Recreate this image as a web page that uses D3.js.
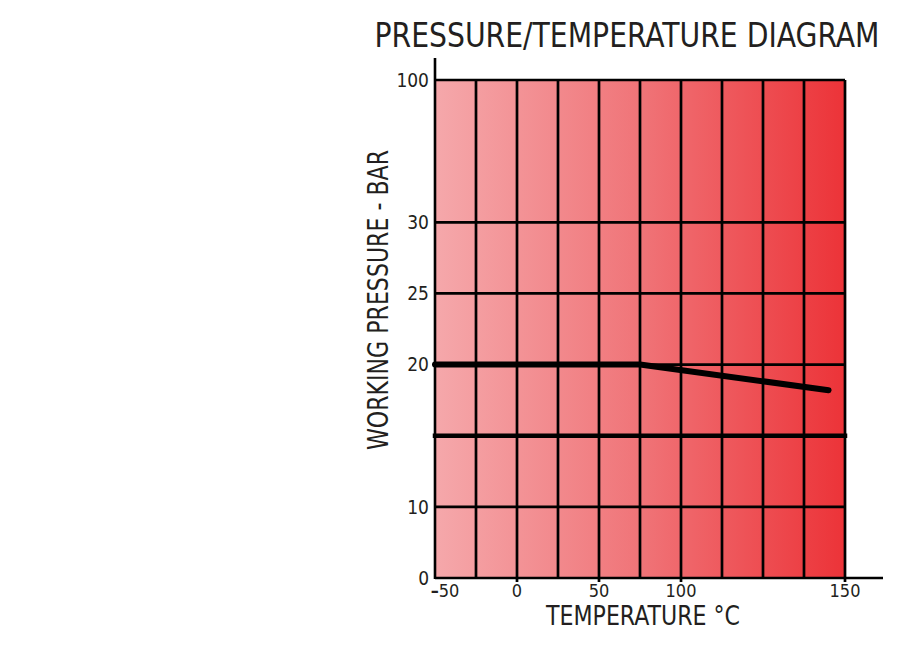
<!DOCTYPE html>
<html>
<head>
<meta charset="utf-8">
<script src="https://cdn.jsdelivr.net/npm/d3@7"></script>
<style>
  html, body { margin: 0; padding: 0; background: #fff; }
  svg { display: block; }
  text { font-family: "DejaVu Sans Condensed", "DejaVu Sans", sans-serif; fill: #231f20; }
</style>
</head>
<body>
<svg id="chart" width="909" height="645"></svg>
<script>
// Pressure levels shown on the vertical axis (unevenly spaced steps)
const pressureLevels = [0, 10, 15, 20, 25, 30, 100];
const pressureLabels = ["0", "10", "", "20", "25", "30", "100"];

// Temperature ticks on the horizontal axis
const tempTicks = [-50, 0, 50, 100, 150];
const tempLabels = ["-50", "0", "50", "100", "150"];

// Maximum working pressure curve
const ratingTemp = [-50, 75, 145];
const ratingPressure = [20, 20, 18.2];

// Reference pressure line
const refTemp = [-50, 150];
const refPressure = [15, 15];

const svg = d3.select("#chart");
const plot = { left: 435, right: 845, top: 80, bottom: 578 };
const columns = 10;
const colW = (plot.right - plot.left) / columns;

// Temperature scale: -50..100 spans six columns, 100..150 the last four
const x = d3.scaleLinear()
  .domain([-50, 100, 150])
  .range([plot.left, plot.left + 6 * colW, plot.right]);

// Pressure scale: one step per level, a double step up to 100 bar
const stepUnits = pressureLevels.map((d, i) => i === pressureLevels.length - 1 ? i + 1 : i);
const stepH = (plot.bottom - plot.top) / stepUnits[stepUnits.length - 1];
const y = d3.scaleLinear()
  .domain(pressureLevels)
  .range(stepUnits.map(s => plot.bottom - s * stepH));

// Background gradient
const defs = svg.append("defs");
const grad = defs.append("linearGradient")
  .attr("id", "bg").attr("x1", "0%").attr("x2", "100%").attr("y1", "0%").attr("y2", "0%");
grad.append("stop").attr("offset", "0%").attr("stop-color", "#f5a8ab");
grad.append("stop").attr("offset", "50%").attr("stop-color", "#f07478");
grad.append("stop").attr("offset", "100%").attr("stop-color", "#ec3338");

svg.append("rect")
  .attr("x", plot.left).attr("y", plot.top)
  .attr("width", plot.right - plot.left).attr("height", plot.bottom - plot.top)
  .attr("fill", "url(#bg)");

// Vertical grid (column boundaries)
const grid = svg.append("g").attr("stroke", "#000").attr("stroke-width", 2.7);
d3.range(1, columns + 1).forEach(i => {
  const gx = plot.left + i * colW;
  grid.append("line")
    .attr("x1", gx).attr("x2", gx)
    .attr("y1", plot.top).attr("y2", plot.bottom);
});

// Horizontal grid at each pressure level
pressureLevels.forEach(p => {
  if (p === 0) return;
  grid.append("line")
    .attr("x1", plot.left).attr("x2", plot.right)
    .attr("y1", y(p)).attr("y2", y(p));
});

// Small downward ticks at labelled temperatures
tempTicks.slice(1).forEach(t => {
  grid.append("line")
    .attr("x1", x(t)).attr("x2", x(t))
    .attr("y1", plot.bottom).attr("y2", plot.bottom + 4);
});

// Axes lines
svg.append("line")
  .attr("x1", plot.left).attr("x2", plot.left)
  .attr("y1", 58).attr("y2", plot.bottom + 1)
  .attr("stroke", "#000").attr("stroke-width", 2.6);
svg.append("line")
  .attr("x1", plot.left).attr("x2", 883)
  .attr("y1", plot.bottom).attr("y2", plot.bottom)
  .attr("stroke", "#000").attr("stroke-width", 2.6);

// Curves
const line = d3.line().x(d => x(d[0])).y(d => y(d[1]));
svg.append("path")
  .datum(refTemp.map((t, i) => [t, refPressure[i]]))
  .attr("d", line)
  .attr("fill", "none").attr("stroke", "#000")
  .attr("stroke-width", 4.5).attr("stroke-linecap", "square");
svg.append("path")
  .datum(ratingTemp.map((t, i) => [t, ratingPressure[i]]))
  .attr("d", line)
  .attr("fill", "none").attr("stroke", "#000")
  .attr("stroke-width", 6).attr("stroke-linecap", "round").attr("stroke-linejoin", "round");

// Y tick labels
svg.append("g").selectAll("text")
  .data(pressureLevels.map((p, i) => ({ p, label: pressureLabels[i] })).filter(d => d.label))
  .join("text")
  .attr("x", 429)
  .attr("y", d => y(d.p))
  .attr("dy", "0.36em")
  .attr("text-anchor", "end")
  .attr("font-size", 19)
  .text(d => d.label);

// X tick labels (negative sign drawn heavier)
const xt = svg.append("g").selectAll("text")
  .data(tempTicks.map((t, i) => ({ t, label: tempLabels[i] })))
  .join("text")
  .attr("x", (d, i) => i === 0 ? x(d.t) + 10 : x(d.t))
  .attr("y", 597)
  .attr("text-anchor", "middle")
  .attr("font-size", 18);
xt.each(function (d) {
  const el = d3.select(this);
  if (d.label.startsWith("-")) {
    el.append("tspan").attr("font-weight", "bold").text("\u2013");
    el.append("tspan").text(d.label.slice(1));
  } else {
    el.text(d.label);
  }
});

// Titles
svg.append("text")
  .attr("x", 627).attr("y", 47)
  .attr("text-anchor", "middle")
  .attr("font-size", 33)
  .attr("textLength", 505).attr("lengthAdjust", "spacingAndGlyphs")
  .text("PRESSURE/TEMPERATURE DIAGRAM");

svg.append("text")
  .attr("x", 643).attr("y", 625)
  .attr("text-anchor", "middle")
  .attr("font-size", 27)
  .attr("textLength", 194).attr("lengthAdjust", "spacingAndGlyphs")
  .text("TEMPERATURE \u00B0C");

svg.append("text")
  .attr("transform", "translate(388,300) rotate(-90)")
  .attr("text-anchor", "middle")
  .attr("font-size", 28)
  .attr("textLength", 300).attr("lengthAdjust", "spacingAndGlyphs")
  .text("WORKING PRESSURE - BAR");
</script>
</body>
</html>
